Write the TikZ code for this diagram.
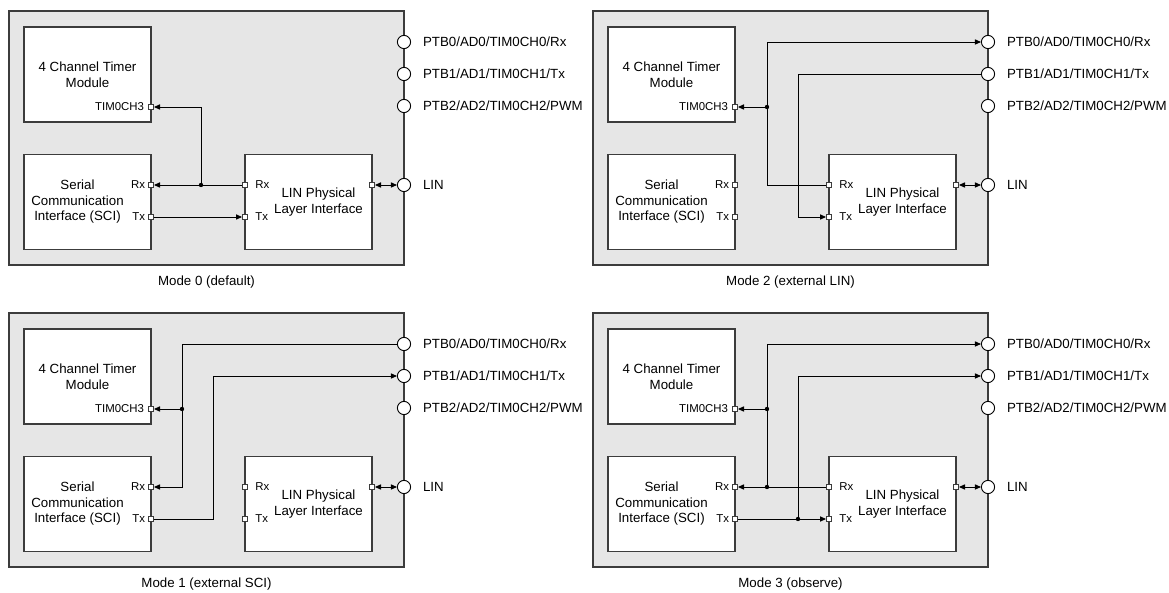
\documentclass[tikz,border=0pt]{standalone}
\usepackage{fontspec}
\setmainfont{Liberation Sans}
\usetikzlibrary{positioning,arrows.meta}
\definecolor{panelbg}{HTML}{E6E6E6}
\definecolor{edge}{HTML}{3C3C3C}

\begin{document}
\begin{tikzpicture}[x=0.5pt,y=-0.5pt,
  font=\fontsize{6.65}{7.75}\selectfont,
  panel/.style={fill=panelbg,draw=edge,line width=0.55pt},
  blk/.style={draw=edge,fill=white,line width=0.55pt,align=center,
              minimum width=63.5pt,minimum height=47.5pt,inner sep=0pt},
  port/.style={draw=edge,fill=white,line width=0.4pt,minimum size=2.6pt,inner sep=0pt},
  pin/.style={circle,draw=black,fill=white,line width=0.45pt,minimum size=6.6pt,inner sep=0pt},
  plab/.style={font=\fontsize{5.7}{6.5}\selectfont,inner sep=1pt},
  pinlab/.style={inner sep=1pt},
  w/.style={draw=black,line width=0.45pt},
  a/.style={w,-{Triangle[length=3pt,width=2.6pt]}},
  aa/.style={w,{Triangle[length=3pt,width=2.6pt]}-{Triangle[length=3pt,width=2.6pt]}},
  dot/.style={circle,fill=black,inner sep=0pt,minimum size=2.2pt}]
\useasboundingbox (0,0) rectangle (1169,593);

% the four panels share one layout
\foreach \mo/\dx/\dy/\capt in {0/0/0/{Mode 0 (default)},2/584/0/{Mode 2 (external LIN)},
                               1/0/302/{Mode 1 (external SCI)},3/584/302/{Mode 3 (observe)}}{
\begin{scope}[shift={(\dx,\dy)}]
  \draw[panel] (9,11) rectangle (404,265);
  \node[blk] (m\mo-tim) at (87.5,74.5) {4 Channel Timer\\Module};
  \node[blk,label={[align=center,xshift=-5pt]center:Serial\\Communication\\Interface (SCI)}]
    (m\mo-sci) at (87.5,202) {};
  \node[blk,label={[align=center,xshift=5pt]center:LIN Physical\\Layer Interface}]
    (m\mo-lin) at (308.5,202) {};
  \node[port] (m\mo-ch3) at (151,107) {};
  \node[port] (m\mo-srx) at (151,185) {};
  \node[port] (m\mo-stx) at (151,217) {};
  \node[port] (m\mo-lrx) at (245,185) {};
  \node[port] (m\mo-ltx) at (245,217) {};
  \node[port] (m\mo-lout) at (372,185) {};
  \node[plab,left=0.8pt of m\mo-ch3] {TIM0CH3};
  \node[plab,left=0.3pt of m\mo-srx] {Rx};
  \node[plab,left=0.3pt of m\mo-stx] {Tx};
  \node[plab,right=2.5pt of m\mo-lrx] {Rx};
  \node[plab,right=2.5pt of m\mo-ltx] {Tx};
  \node[pin] (m\mo-p0) at (404,42) {};
  \node[pin] (m\mo-p1) at (404,74) {};
  \node[pin] (m\mo-p2) at (404,106) {};
  \node[pin] (m\mo-plin) at (404,185) {};
  \node[pinlab,right=4.8pt of m\mo-p0] {PTB0/AD0/TIM0CH0/Rx};
  \node[pinlab,right=4.8pt of m\mo-p1] {PTB1/AD1/TIM0CH1/Tx};
  \node[pinlab,right=4.8pt of m\mo-p2] {PTB2/AD2/TIM0CH2/PWM};
  \node[pinlab,right=4.8pt of m\mo-plin] {LIN};
  \node (m\mo-cap) at (206.5,282) {\capt};
  \draw[aa] (m\mo-lout) -- (m\mo-plin);
\end{scope}
}

% Mode 0
\node[dot] (m0-j) at (201,185) {};
\draw[a] (m0-lrx) -- (m0-srx);
\draw[a] (m0-j.center) |- (m0-ch3);
\draw[a] (m0-stx) -- (m0-ltx);

% Mode 2
\begin{scope}[shift={(584,0)}]
  \coordinate (m2-rc) at (183,185);
  \node[dot] (m2-j) at (183,107) {};
  \coordinate (m2-tc) at (214,74);
\end{scope}
\draw[a] (m2-lrx) -- (m2-rc) |- (m2-p0);
\draw[a] (m2-j.center) -- (m2-ch3);
\draw[a] (m2-p1) -- (m2-tc) |- (m2-ltx);

% Mode 1
\begin{scope}[shift={(0,302)}]
  \coordinate (m1-rc) at (182,42);
  \node[dot] (m1-j) at (182,107) {};
  \coordinate (m1-tc) at (213,217);
\end{scope}
\draw[a] (m1-p0) -- (m1-rc) |- (m1-srx);
\draw[a] (m1-j.center) -- (m1-ch3);
\draw[a] (m1-stx) -- (m1-tc) |- (m1-p1);

% Mode 3
\begin{scope}[shift={(584,302)}]
  \node[dot] (m3-jr) at (183,185) {};
  \node[dot] (m3-j) at (183,107) {};
  \node[dot] (m3-jt) at (214,217) {};
\end{scope}
\draw[a] (m3-lrx) -- (m3-srx);
\draw[a] (m3-jr.center) |- (m3-p0);
\draw[a] (m3-j.center) -- (m3-ch3);
\draw[a] (m3-stx) -- (m3-ltx);
\draw[a] (m3-jt.center) |- (m3-p1);
\end{tikzpicture}
\end{document}
